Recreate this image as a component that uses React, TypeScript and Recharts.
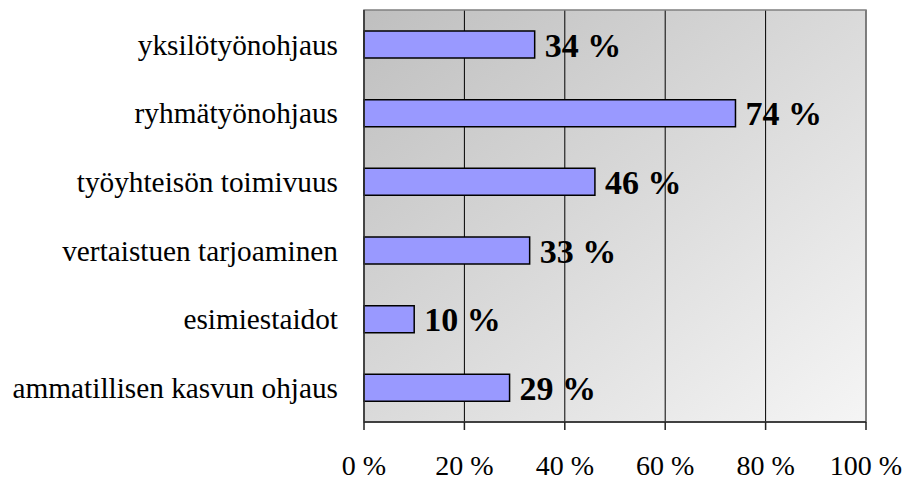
import React from 'react';
import {
  BarChart,
  Bar,
  XAxis,
  YAxis,
  CartesianGrid,
  LabelList,
  ReferenceArea,
} from 'recharts';

const categories = [
  'yksilötyönohjaus',
  'ryhmätyönohjaus',
  'työyhteisön toimivuus',
  'vertaistuen tarjoaminen',
  'esimiestaidot',
  'ammatillisen kasvun ohjaus',
];
const shares = [34, 74, 46, 33, 10, 29];
const xTicks = [0, 20, 40, 60, 80, 100];

const data = categories.map((name, i) => ({ name, value: shares[i] }));

const FONT = '"Liberation Serif", "Times New Roman", serif';

const App = () => {
  return (
    <div style={{ position: 'absolute', left: 0, top: 0, width: 906, height: 480, background: '#fff' }}>
      <BarChart
        width={906}
        height={480}
        data={data}
        layout="vertical"
        margin={{ top: 10, right: 40, left: 0, bottom: 0 }}
        barCategoryGap="10%"
      >
        <defs>
          <linearGradient id="plotBg" x1="0" y1="0" x2="1" y2="1">
            <stop offset="0%" stopColor="#bfbfbf" />
            <stop offset="100%" stopColor="#f5f5f5" />
          </linearGradient>
        </defs>
        <CartesianGrid
          horizontal={false}
          vertical
          stroke="#000"
          strokeWidth={1}
          fill="url(#plotBg)"
          fillOpacity={1}
        />
        <ReferenceArea x1={0} x2={100} fill="none" stroke="#808080" strokeWidth={1.5} ifOverflow="visible" />
        <XAxis
          type="number"
          domain={[0, 100]}
          ticks={xTicks}
          tickFormatter={(v) => `${v} %`}
          height={58}
          tickSize={8}
          tickMargin={25}
          axisLine={{ stroke: '#222', strokeWidth: 1.5 }}
          tickLine={{ stroke: '#222', strokeWidth: 1.5 }}
          tick={{ fontSize: 28, fill: '#000', fontFamily: FONT }}
        />
        <YAxis
          type="category"
          dataKey="name"
          width={364}
          tickSize={0}
          tickMargin={26}
          tickLine={false}
          axisLine={{ stroke: '#333', strokeWidth: 1.5 }}
          tick={{ fontSize: 29.3, fill: '#000', fontFamily: FONT }}
          interval={0}
        />
        <Bar
          dataKey="value"
          fill="#9999FF"
          stroke="#000"
          strokeWidth={1.5}
          barSize={27}
          isAnimationActive={false}
        >
          <LabelList
            dataKey="value"
            position="right"
            offset={10}
            formatter={(v: any) => `${v} %`}
            style={{ fontSize: 34, fontWeight: 'bold', fill: '#000', fontFamily: FONT }}
          />
        </Bar>
      </BarChart>
    </div>
  );
};

export default App;
